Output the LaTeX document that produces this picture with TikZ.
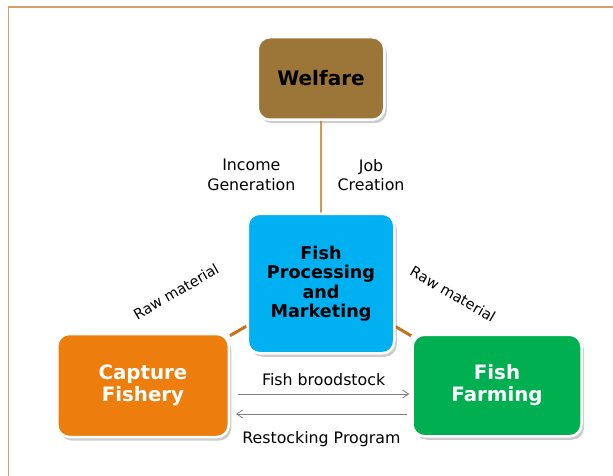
\documentclass[tikz,border=0pt]{standalone}
\usepackage{fontspec}
\setmainfont{DejaVu Sans}
\usetikzlibrary{calc,positioning,shadows,backgrounds,arrows.meta}
\definecolor{welfarebrown}{RGB}{156,117,56}
\definecolor{procblue}{RGB}{0,176,240}
\definecolor{captorange}{RGB}{237,125,12}
\definecolor{farmgreen}{RGB}{0,176,80}
\definecolor{linkbrown}{RGB}{200,115,28}
\definecolor{lighttan}{RGB}{217,150,80}
\definecolor{framecol}{RGB}{214,160,104}
\definecolor{flowgray}{RGB}{128,128,128}

\begin{document}
\begin{tikzpicture}[x=1pt, y=1pt, >={Straight Barb[length=6pt,width=8pt]},
    block/.style={rectangle, rounded corners=12pt, draw=white, line width=2.5pt, align=center, inner sep=0pt, drop shadow={shadow xshift=2.5pt, shadow yshift=-3.5pt, opacity=0.4}},
    lbl/.style={inner sep=0pt, align=center, text=black, font=\fontsize{15.8}{19.3}\selectfont},
    flow/.style={flowgray, line width=0.8pt},]
        \useasboundingbox (0,0) rectangle (613,-476);
        \draw[framecol, line width=1.2pt] (8.5,-476) -- (8.5,-7) -- (613,-7);
        \node[block, fill=captorange, text=white, minimum width=171.5pt, minimum height=103pt, font=\bfseries\fontsize{19.8}{22}\selectfont] (capture) at (143,-385.5) {Capture\\Fishery};
        \node[block, on grid, fill=farmgreen, text=white, minimum width=169pt, minimum height=101.5pt, font=\bfseries\fontsize{19.8}{22}\selectfont, right=354pt of capture] (farming) {Fish\\Farming};
        \node[block, on grid, fill=procblue, minimum width=146.5pt, minimum height=139.5pt, font=\bfseries\fontsize{17.6}{19.5}\selectfont, above right=102pt and 178pt of capture] (proc) {Fish\\Processing\\and\\Marketing};
        \node[block, on grid, fill=welfarebrown, minimum width=126.5pt, minimum height=82.5pt, font=\bfseries\fontsize{20}{24}\selectfont, above=205pt of proc] (welfare) {Welfare};
        \begin{scope}[on background layer]
            \draw[lighttan, line width=1.2pt] (welfare) -- node[lbl, pos=0.59, left=25pt] (income) {Income\\Generation} node[lbl, pos=0.59, right=16pt] (job) {Job\\Creation} (proc);
            \draw[linkbrown, line width=3pt] (capture) -- (proc);
            \draw[linkbrown, line width=3pt] (farming) -- (proc);
        \end{scope}
        \node[lbl, font=\fontsize{14.5}{17}\selectfont, rotate=30] (rawleft) at (176,-291.5) {Raw material};
        \node[lbl, font=\fontsize{14.5}{17}\selectfont, rotate=-30] (rawright) at (453,-294) {Raw material};
        \draw[flow, ->] ([shift={(8pt,-8.5pt)}]capture.east) -- node[lbl, above=8pt] (brood) {Fish broodstock} ([shift={(-2pt,-8.5pt)}]farming.west);
        \draw[flow, ->] ([shift={(-4.5pt,-28.5pt)}]farming.west) -- node[lbl, below=17pt] (restock) {Restocking Program} ([shift={(6pt,-28.5pt)}]capture.east);
      \end{tikzpicture}
\end{document}
